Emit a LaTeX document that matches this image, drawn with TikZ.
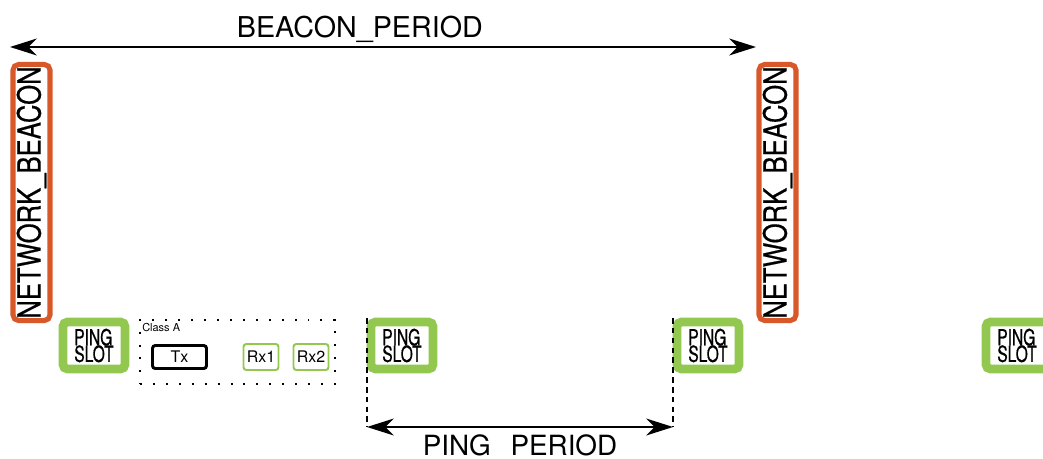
\documentclass[tikz,border=0pt]{standalone}
\usepackage{fontspec}
\setmainfont{TeX Gyre Heros}
\newfontfamily\narrowfont[FakeStretch=0.8, FakeBold=0.5]{TeX Gyre Heros}
\newfontfamily\slotfont[FakeStretch=0.7, FakeBold=0.6]{TeX Gyre Heros}
\usepackage{tikz}
\usetikzlibrary{arrows.meta,calc}
\definecolor{beaconorange}{RGB}{217,88,42}
\definecolor{slotgreen}{RGB}{146,200,80}
\newcommand{\slottext}{PING\\SLOT}
\setlength{\lineskiplimit}{-20pt}

\tikzset{
	beaconbox/.style={draw=beaconorange, line width=3.6pt, rounded corners=4pt, rotate=90,
		minimum width=6.4cm, minimum height=0.925cm, inner sep=0pt,
		font=\narrowfont\fontsize{22.8}{24}\selectfont},
	slotbox/.style={draw=slotgreen, line width=6.2pt, rounded corners=3.2pt,
		minimum width=1.55cm, minimum height=1.175cm, inner sep=0pt, align=left,
		font=\slotfont\fontsize{15.8}{11.8}\selectfont},
	txbox/.style={draw, line width=2.1pt, rounded corners=2pt,
		minimum width=1.35cm, minimum height=0.575cm, inner sep=0pt,
		font=\fontsize{11.4}{13}\selectfont},
	rxbox/.style={draw=slotgreen, line width=1.4pt, rounded corners=2pt,
		minimum width=0.875cm, minimum height=0.65cm, inner sep=0pt,
		font=\fontsize{11.4}{13}\selectfont},
	period/.style={<->, line width=1.4pt},
	guide/.style={line width=1.2pt, dash pattern=on 4pt off 3pt},
}

\begin{document}
\begin{tikzpicture}[x=0.025cm, y=-0.025cm,
	>={Stealth[length=19pt, width=12pt, inset=6pt]}]
	\useasboundingbox (0,0) rectangle (1043,459);

	% beacons
	\node[beaconbox] (nb1) at (31.5, 192.5) {NETWORK\_BEACON};
	\node[beaconbox] (nb2) at (777.5, 192.5) {NETWORK\_BEACON};

	% ping slots
	\node[slotbox] (ps1) at (94, 345.5) {\slottext};
	\node[slotbox] (ps2) at (402, 345.5) {\slottext};
	\node[slotbox] (ps3) at (708, 345.5) {\slottext};
	\node[slotbox] (ps4) at (1017, 345.5) {\slottext};

	% class A window
	\node[draw, line width=1.4pt, dash pattern=on 1.4pt off 7.8pt,
		minimum width=4.875cm, minimum height=1.6cm] (classA) at (237.5, 352) {};
	\node[anchor=base west, inner sep=0pt, font=\fontsize{7.8}{9}\selectfont] (clabel) at (142, 331) {Class A};
	\node[txbox] (tx) at (179.5, 357) {Tx};
	\node[rxbox] (rx1) at (261, 357) {Rx1};
	\node[rxbox] (rx2) at (311, 357) {Rx2};

	% periods
	\coordinate (bpa) at (10, 47);
	\coordinate (bpb) at (756, 47);
	\coordinate (ppa) at (367, 427);
	\coordinate (ppb) at (673, 427);

	\draw[period] (bpa) -- node[pos=0.469, anchor=base, yshift=7pt, inner sep=0pt,
		font=\fontsize{20.4}{24}\selectfont]{BEACON\_PERIOD} (bpb);
	\draw[guide] (ppa |- 0,318) -- (ppa);
	\draw[guide] (ppb |- 0,318) -- (ppb);
	\draw[period] (ppa) -- node[anchor=base, yshift=-20.6pt, inner sep=0pt,
		font=\fontsize{19.8}{24}\selectfont]{PING\hspace{14pt}PERIOD} (ppb);
\end{tikzpicture}
\end{document}
